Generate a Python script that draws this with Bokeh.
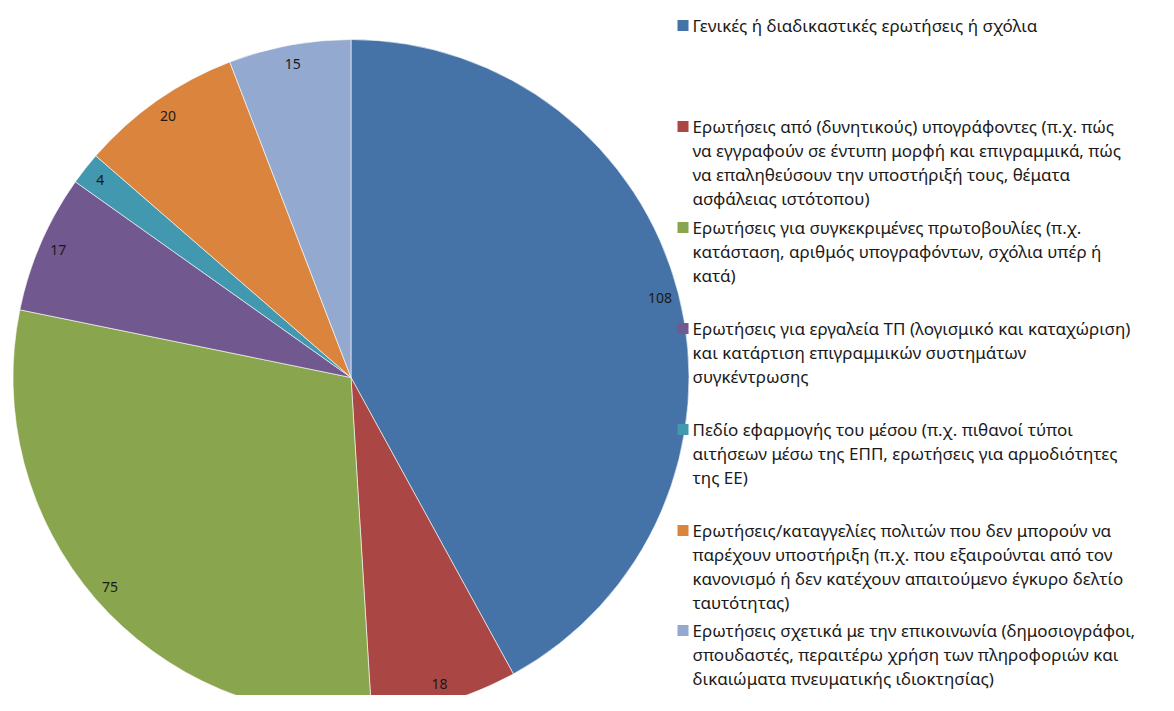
import numpy as np
from bokeh.plotting import figure
from bokeh.models import Range1d, ColumnDataSource
from bokeh.core.properties import value
from bokeh.embed import file_html
from bokeh.resources import INLINE

categories = [
    "Γενικές ή διαδικαστικές ερωτήσεις ή σχόλια",
    "Ερωτήσεις από (δυνητικούς) υπογράφοντες (π.χ. πώς\nνα εγγραφούν σε έντυπη μορφή και επιγραμμικά, πώς\nνα επαληθεύσουν την υποστήριξή τους, θέματα\nασφάλειας ιστότοπου)",
    "Ερωτήσεις για συγκεκριμένες πρωτοβουλίες (π.χ.\nκατάσταση, αριθμός υπογραφόντων, σχόλια υπέρ ή\nκατά)",
    "Ερωτήσεις για εργαλεία ΤΠ (λογισμικό και καταχώριση)\nκαι κατάρτιση επιγραμμικών συστημάτων\nσυγκέντρωσης",
    "Πεδίο εφαρμογής του μέσου (π.χ. πιθανοί τύποι\nαιτήσεων μέσω της ΕΠΠ, ερωτήσεις για αρμοδιότητες\nτης ΕΕ)",
    "Ερωτήσεις/καταγγελίες πολιτών που δεν μπορούν να\nπαρέχουν υποστήριξη (π.χ. που εξαιρούνται από τον\nκανονισμό ή δεν κατέχουν απαιτούμενο έγκυρο δελτίο\nταυτότητας)",
    "Ερωτήσεις σχετικά με την επικοινωνία (δημοσιογράφοι,\nσπουδαστές, περαιτέρω χρήση των πληροφοριών και\nδικαιώματα πνευματικής ιδιοκτησίας)",
]
values = [108, 18, 75, 17, 4, 20, 15]
colors = ["#4572A7", "#AA4643", "#89A54E", "#71588F", "#4198AF", "#DB843D", "#93A9CF"]

W, H = 1158, 695
FONT = "Noto Sans"

# data coordinates: x = image x, y = 711 - image y
p = figure(width=W, height=H, output_backend="svg", toolbar_location=None,
           x_range=Range1d(0, W), y_range=Range1d(711 - H, 711),
           min_border=0)
p.axis.visible = False
p.grid.visible = False
p.outline_line_color = None
p.background_fill_color = "white"
p.border_fill_color = "white"

cx, cy, r = 350.5, 711 - 377, 338
vals = np.array(values, dtype=float)
frac = vals / vals.sum()
cum = np.concatenate([[0], np.cumsum(frac)])
start = np.pi / 2 - cum[:-1] * 2 * np.pi
end = np.pi / 2 - cum[1:] * 2 * np.pi
mid = (start + end) / 2

src = ColumnDataSource(dict(start=start, end=end, color=colors,
                            lx=cx + 0.944 * r * np.cos(mid),
                            ly=cy + 0.944 * r * np.sin(mid),
                            lab=[str(v) for v in values]))
p.wedge(x=cx, y=cy, radius=r, start_angle="start", end_angle="end",
        direction="clock", fill_color="color", line_color="white",
        line_width=0.6, source=src)
p.text(x="lx", y="ly", text="lab", source=src, text_align="center",
       text_baseline="middle", text_font=value(FONT), text_font_size="14px",
       text_color="#1a1a1a")

# legend
first_y = [25, 126, 227, 328, 429, 530, 630]
line_h = 24
sq_x, txt_x = 682.5, 692
sx, sy, sc, tx, ty, tt = [], [], [], [], [], []
for i, cat in enumerate(categories):
    y0 = first_y[i]
    sx.append(sq_x)
    sy.append(711 - y0)
    sc.append(colors[i])
    for j, line in enumerate(cat.split("\n")):
        tx.append(txt_x)
        ty.append(711 - (y0 + j * line_h))
        tt.append(line)
p.scatter(x=sx, y=sy, marker="square", size=11, fill_color=sc, line_color=None)
p.text(x=tx, y=ty, text=tt, text_align="left", text_baseline="middle",
       text_font=value(FONT), text_font_size="17px", text_color="#1a1a1a")

open("out.html", "w").write(file_html(p, INLINE))
